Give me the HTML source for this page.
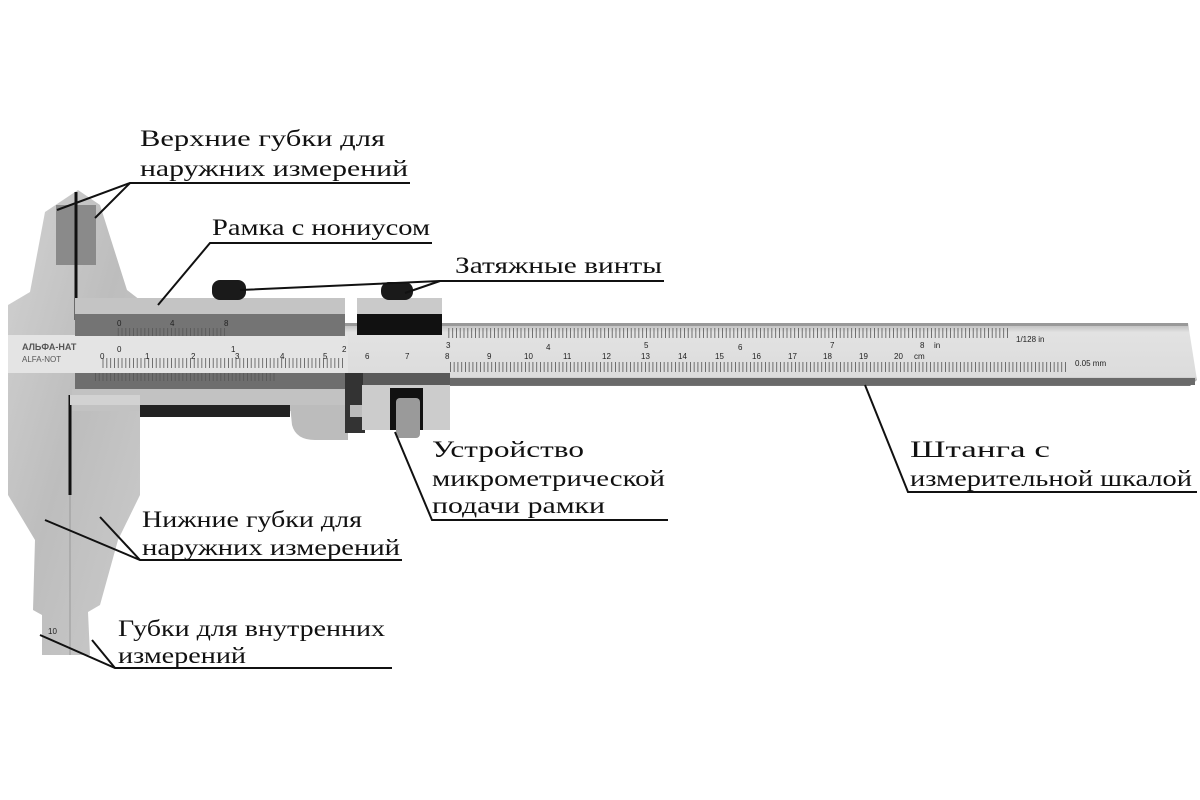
<!DOCTYPE html>
<html><head><meta charset="utf-8"><style>
html,body{margin:0;padding:0;background:#fff;width:1200px;height:800px;overflow:hidden}
svg{display:block}
text{font-family:"Liberation Serif","DejaVu Serif",serif;fill:#111}
.lbl text{font-size:23px}
.sc text{font-family:"Liberation Sans",sans-serif;font-size:8px;fill:#222}
</style></head><body>
<svg width="1200" height="800" viewBox="0 0 1200 800" xmlns="http://www.w3.org/2000/svg">
<defs>
<linearGradient id="met" x1="0" y1="0" x2="1" y2="1">
<stop offset="0" stop-color="#d2d2d2"/><stop offset="0.5" stop-color="#bdbdbd"/><stop offset="1" stop-color="#cbcbcb"/></linearGradient>
<linearGradient id="beam" x1="0" y1="0" x2="0" y2="1">
<stop offset="0" stop-color="#b5b5b5"/><stop offset="0.15" stop-color="#e2e2e2"/><stop offset="0.85" stop-color="#dcdcdc"/><stop offset="1" stop-color="#6e6e6e"/></linearGradient>
<pattern id="tk" width="3.8" height="10" patternUnits="userSpaceOnUse"><rect x="0" y="0" width="0.8" height="10" fill="#555"/></pattern>
<pattern id="tk2" width="3.75" height="10" patternUnits="userSpaceOnUse"><rect x="0" y="0" width="0.8" height="10" fill="#555"/></pattern>
</defs>

<polygon points="345,323 1188,323 1197,380 1190,386 345,386" fill="url(#beam)"/>
<rect x="345" y="323" width="843" height="3" fill="#999"/>
<rect x="345" y="378" width="850" height="7" fill="#6a6a6a"/>
<rect x="448" y="328" width="560" height="10" fill="url(#tk)"/>
<rect x="448" y="362" width="620" height="10" fill="url(#tk2)"/>

<polygon points="45,212 78,190 100,205 127,290 140,300 140,495 118,540 100,605 88,612 90,655 42,655 42,615 33,610 35,540 8,495 8,305 30,292" fill="url(#met)"/>
<rect x="56" y="205" width="40" height="60" fill="#8a8a8a"/>
<line x1="76" y1="192" x2="76" y2="320" stroke="#111" stroke-width="3"/>
<line x1="70" y1="395" x2="70" y2="495" stroke="#111" stroke-width="3"/>
<line x1="70" y1="495" x2="70" y2="655" stroke="#999" stroke-width="1"/>
<rect x="8" y="335" width="340" height="38" fill="#e4e4e4"/>
<rect x="100" y="358" width="245" height="10" fill="url(#tk)"/>
<g class="sc"><text x="22" y="350" style="font-size:9px;font-weight:bold;fill:#555">АЛЬФА-НАТ</text>
<text x="22" y="362" style="fill:#555">ALFA-NOT</text></g>

<rect x="75" y="298" width="270" height="18" fill="#c4c4c4"/>
<rect x="75" y="314" width="270" height="22" fill="#747474"/>
<rect x="115" y="328" width="110" height="8" fill="url(#tk)"/>
<rect x="75" y="373" width="272" height="16" fill="#6e6e6e"/>
<rect x="95" y="373" width="180" height="8" fill="url(#tk)"/>
<rect x="72" y="389" width="275" height="22" fill="#c2c2c2"/>
<rect x="140" y="405" width="150" height="12" fill="#222"/>
<path d="M140,405 L290,405 L292,425 Q296,440 315,440 L348,440 L348,405 Z" fill="#bcbcbc"/>
<rect x="70" y="395" width="70" height="10" fill="#d2d2d2"/>
<rect x="357" y="298" width="85" height="18" fill="#cacaca"/>
<rect x="357" y="314" width="85" height="21" fill="#111"/>
<rect x="212" y="280" width="34" height="20" rx="8" fill="#1a1a1a"/>
<rect x="381" y="282" width="32" height="18" rx="8" fill="#1a1a1a"/>
<rect x="345" y="373" width="20" height="60" fill="#333"/>
<rect x="363" y="373" width="87" height="12" fill="#5a5a5a"/>
<rect x="362" y="385" width="88" height="45" fill="#cccccc"/>
<rect x="390" y="388" width="33" height="42" fill="#111"/>
<rect x="396" y="398" width="24" height="40" rx="4" fill="#9a9a9a"/>
<rect x="350" y="405" width="12" height="12" fill="#bbb"/>

<g class="sc">
<text x="100" y="359">0</text><text x="145" y="359">1</text><text x="191" y="359">2</text><text x="235" y="359">3</text><text x="280" y="359">4</text><text x="323" y="359">5</text><text x="365" y="359">6</text><text x="405" y="359">7</text><text x="445" y="359">8</text><text x="487" y="359">9</text><text x="524" y="359">10</text><text x="563" y="359">11</text><text x="602" y="359">12</text><text x="641" y="359">13</text><text x="678" y="359">14</text><text x="715" y="359">15</text><text x="752" y="359">16</text><text x="788" y="359">17</text><text x="823" y="359">18</text><text x="859" y="359">19</text><text x="894" y="359">20</text><text x="914" y="359">cm</text>
<text x="117" y="352">0</text><text x="231" y="352">1</text><text x="342" y="352">2</text><text x="446" y="348">3</text><text x="546" y="350">4</text><text x="644" y="348">5</text><text x="738" y="350">6</text><text x="830" y="348">7</text><text x="920" y="348">8</text><text x="934" y="348">in</text>
<text x="1016" y="342">1/128 in</text><text x="1075" y="366">0.05 mm</text>
<text x="117" y="326">0</text><text x="170" y="326">4</text><text x="224" y="326">8</text>
<text x="48" y="634">10</text>
</g>

<g stroke="#111" stroke-width="2" fill="none">
<polyline points="57,210 130,183 410,183"/><line x1="95" y1="218" x2="130" y2="183"/>
<polyline points="158,305 210,243 432,243"/>
<polyline points="240,290 440,281 664,281"/><line x1="405" y1="293" x2="440" y2="281"/>
<polyline points="395,432 432,520 668,520"/>
<polyline points="865,385 908,492 1197,492"/>
<polyline points="45,520 140,560 402,560"/><line x1="100" y1="517" x2="140" y2="560"/>
<polyline points="40,635 115,668 392,668"/><line x1="92" y1="640" x2="115" y2="668"/>
</g>

<g class="lbl">
<text x="140" y="146" textLength="245" lengthAdjust="spacingAndGlyphs">Верхние губки для</text>
<text x="140" y="176" textLength="268" lengthAdjust="spacingAndGlyphs">наружних  измерений</text>
<text x="212" y="235" textLength="218" lengthAdjust="spacingAndGlyphs">Рамка с нониусом</text>
<text x="455" y="273" textLength="207" lengthAdjust="spacingAndGlyphs">Затяжные винты</text>
<text x="432" y="457" textLength="152" lengthAdjust="spacingAndGlyphs">Устройство</text>
<text x="432" y="486" textLength="233" lengthAdjust="spacingAndGlyphs">микрометрической</text>
<text x="432" y="513" textLength="173" lengthAdjust="spacingAndGlyphs">подачи рамки</text>
<text x="910" y="457" textLength="140" lengthAdjust="spacingAndGlyphs">Штанга с</text>
<text x="910" y="486" textLength="282" lengthAdjust="spacingAndGlyphs">измерительной шкалой</text>
<text x="142" y="527" textLength="220" lengthAdjust="spacingAndGlyphs">Нижние губки для</text>
<text x="142" y="555" textLength="258" lengthAdjust="spacingAndGlyphs">наружних измерений</text>
<text x="118" y="636" textLength="267" lengthAdjust="spacingAndGlyphs">Губки для внутренних</text>
<text x="118" y="663" textLength="128" lengthAdjust="spacingAndGlyphs">измерений</text>
</g>
</svg>
</body></html>
